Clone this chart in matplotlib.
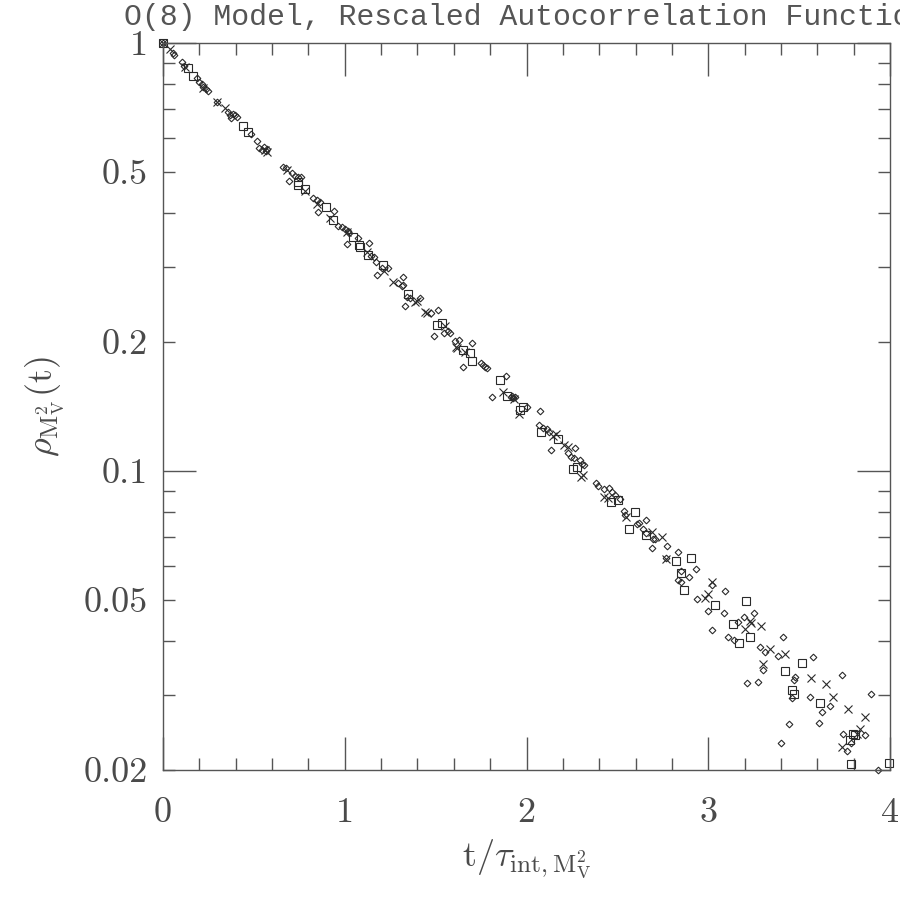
import numpy as np
import matplotlib
matplotlib.use("Agg")
import matplotlib.pyplot as plt
from matplotlib.ticker import FixedLocator, FixedFormatter, NullFormatter

plt.rcParams['mathtext.fontset'] = 'cm'

# diamonds (first data set)
t_dia = [0.0, 0.055, 0.06, 0.105, 0.115, 0.187, 0.198, 0.215, 0.22, 0.237, 0.248,
         0.297, 0.358, 0.369, 0.385, 0.396, 0.407, 0.374, 0.484, 0.517, 0.528, 0.545,
         0.556, 0.567, 0.572, 0.66, 0.677,
         0.71, 0.726, 0.743, 0.76, 0.693, 0.825, 0.847, 0.864, 0.853, 0.941,
         0.963, 0.985, 1.001, 1.018, 1.023, 1.073, 1.012, 1.133, 1.144, 1.161, 1.172,
         1.238, 1.205, 1.177, 1.32, 1.293, 1.315, 1.32,
         1.343, 1.359, 1.414, 1.331, 1.475, 1.513, 1.546, 1.568, 1.579, 1.491,
         1.607, 1.629, 1.70, 1.75, 1.761, 1.772, 1.783, 1.651, 1.887, 1.809,
         1.915, 1.926, 1.937, 1.92,
         2.0, 2.074, 2.069, 2.091, 2.113, 2.124, 2.135, 2.267, 2.228, 2.245, 2.261,
         2.294, 2.305, 2.316, 2.382, 2.393, 2.426, 2.454, 2.47, 2.487, 2.514,
         2.536, 2.542, 2.657, 2.608, 2.619, 2.641, 2.657,
         2.696, 2.707, 2.69, 2.773, 2.834, 2.768, 2.933, 2.85, 2.834, 2.85, 2.894,
         3.021, 3.092, 2.938, 3.0, 3.087, 3.252, 3.197, 3.164, 3.021, 3.108, 3.142,
         3.285, 3.312, 3.30, 3.213, 3.274,
         3.411, 3.384, 3.576, 3.477, 3.472, 3.736, 3.461, 3.56, 3.67, 3.626, 3.896,
         3.444, 3.609, 3.862, 3.741, 3.40, 3.785, 3.763, 3.934]
rho_dia = [1.0, 0.947, 0.94, 0.903, 0.884, 0.829, 0.811, 0.802, 0.789, 0.78, 0.772,
           0.728, 0.690, 0.679, 0.682, 0.679, 0.671, 0.668, 0.613, 0.590, 0.568, 0.562,
           0.571, 0.559, 0.565, 0.513, 0.510,
           0.497, 0.489, 0.486, 0.486, 0.476, 0.434, 0.430, 0.425, 0.403, 0.404,
           0.373, 0.371, 0.367, 0.364, 0.360, 0.350, 0.339, 0.341, 0.318, 0.316, 0.308,
           0.298, 0.298, 0.287, 0.284, 0.275, 0.270, 0.272,
           0.255, 0.253, 0.253, 0.243, 0.234, 0.238, 0.210, 0.212, 0.210, 0.207,
           0.201, 0.202, 0.199, 0.179, 0.177, 0.175, 0.174, 0.175, 0.167, 0.149,
           0.149, 0.148, 0.149, 0.150,
           0.141, 0.138, 0.128, 0.126, 0.125, 0.123, 0.112, 0.113, 0.110, 0.108, 0.107,
           0.106, 0.104, 0.103, 0.0937, 0.0922, 0.0906, 0.0910, 0.0892, 0.0880, 0.0861,
           0.0805, 0.0790, 0.0767, 0.0752, 0.0756, 0.0730, 0.0718,
           0.0694, 0.0694, 0.0661, 0.0667, 0.0645, 0.0625, 0.0590, 0.0584, 0.0556, 0.0550, 0.0564,
           0.0542, 0.0524, 0.0503, 0.0471, 0.0465, 0.0465, 0.0456, 0.0444, 0.0424, 0.0410, 0.0403,
           0.0388, 0.0377, 0.0342, 0.0319, 0.0321,
           0.0410, 0.0369, 0.0368, 0.0330, 0.0324, 0.0333, 0.0294, 0.0297, 0.0282, 0.0273, 0.0301,
           0.0256, 0.0258, 0.0242, 0.0243, 0.0231, 0.0231, 0.0221, 0.0200]

# squares (second data set)
t_sq = [0.0, 0.14, 0.165, 0.44, 0.468, 0.743, 0.743, 0.78, 0.897, 0.935, 1.045,
        1.078, 1.084, 1.128, 1.21, 1.348, 1.507, 1.535, 1.651, 1.689, 1.70, 1.854,
        1.893, 1.964, 1.981, 2.08, 2.173, 2.256, 2.278, 2.465, 2.503, 2.597, 2.564,
        2.657, 2.905, 2.823, 2.85, 2.867, 3.037, 3.208, 3.136, 3.169, 3.23, 3.516,
        3.422, 3.461, 3.472, 3.615, 3.807, 3.796, 3.78, 3.785, 3.995]
rho_sq = [1.0, 0.874, 0.837, 0.640, 0.619, 0.473, 0.466, 0.456, 0.413, 0.386, 0.352,
          0.337, 0.333, 0.319, 0.303, 0.259, 0.219, 0.222, 0.192, 0.189, 0.181, 0.163,
          0.150, 0.139, 0.141, 0.123, 0.119, 0.101, 0.102, 0.0845, 0.0855, 0.0800, 0.0730,
          0.0708, 0.0627, 0.0615, 0.0578, 0.0528, 0.0487, 0.0497, 0.0438, 0.0396, 0.0410, 0.0356,
          0.0340, 0.0307, 0.0301, 0.0287, 0.0242, 0.0243, 0.0235, 0.0207, 0.0208]

# crosses (third data set)
t_cr = [0.0, 0.04, 0.12, 0.22, 0.297, 0.341, 0.572, 0.561, 0.68, 0.78, 0.847, 0.919,
        1.012, 1.122, 1.216, 1.265, 1.386, 1.397, 1.441, 1.452, 1.551, 1.612, 1.618,
        1.662, 1.87, 1.931, 1.959, 2.146, 2.162, 2.206, 2.228, 2.311, 2.30, 2.426,
        2.448, 2.547, 2.69, 2.746, 2.768, 3.021, 3.0, 2.982, 3.23, 3.235, 3.29, 3.202,
        3.30, 3.34, 3.422, 3.565, 3.648, 3.686, 3.769, 3.862, 3.835, 3.818, 3.736]
rho_cr = [1.0, 0.968, 0.88, 0.785, 0.728, 0.705, 0.556, 0.562, 0.505, 0.452, 0.421, 0.390,
          0.362, 0.325, 0.293, 0.276, 0.248, 0.249, 0.235, 0.234, 0.218, 0.195, 0.194,
          0.190, 0.153, 0.147, 0.136, 0.121, 0.122, 0.115, 0.114, 0.0977, 0.0967, 0.0870,
          0.0866, 0.0782, 0.0720, 0.0701, 0.0621, 0.0550, 0.0517, 0.0506, 0.0446, 0.0442, 0.0435, 0.0428,
          0.0354, 0.0383, 0.0373, 0.0328, 0.0318, 0.0296, 0.0278, 0.0266, 0.0249, 0.0243, 0.0226]

ytick_major = [0.1, 1]
ytick_minor = [0.02, 0.03, 0.04, 0.05, 0.06, 0.07, 0.08, 0.09,
               0.2, 0.3, 0.4, 0.5, 0.6, 0.7, 0.8, 0.9]
ylabels_major = ['0.1', '1']
ylabels_minor = ['0.02', '', '', '0.05', '', '', '', '',
                 '0.2', '', '', '0.5', '', '', '', '']
xtick_major = [0, 1, 2, 3, 4]
xtick_minor = [0.2, 0.4, 0.6, 0.8, 1.2, 1.4, 1.6, 1.8, 2.2, 2.4, 2.6, 2.8,
               3.2, 3.4, 3.6, 3.8]

ink = '#2a2a2a'
txt = '#4a4a4a'
fig = plt.figure(figsize=(9, 9), dpi=100)
ax = fig.add_axes([0.1811, 0.1444, 0.8078, 0.8078])

ax.plot(t_dia, rho_dia, linestyle='none', marker='D', ms=3.4, mfc='none',
        mec=ink, mew=0.8, clip_on=False)
ax.plot(t_sq, rho_sq, linestyle='none', marker='s', ms=5.2, mfc='none',
        mec=ink, mew=0.8, clip_on=False)
ax.plot(t_cr, rho_cr, linestyle='none', marker='x', ms=5.8,
        mec=ink, mew=0.8, clip_on=False)

ax.set_yscale('log')
ax.set_xlim(0, 4)
ax.set_ylim(0.02, 1)

ax.yaxis.set_major_locator(FixedLocator(ytick_major))
ax.yaxis.set_major_formatter(FixedFormatter(ylabels_major))
ax.yaxis.set_minor_locator(FixedLocator(ytick_minor))
ax.yaxis.set_minor_formatter(FixedFormatter(ylabels_minor))
ax.xaxis.set_major_locator(FixedLocator(xtick_major))
ax.xaxis.set_minor_locator(FixedLocator(xtick_minor))
ax.xaxis.set_minor_formatter(NullFormatter())

ax.tick_params(which='both', direction='in', top=True, right=True,
               color='#555555', width=1, labelcolor=txt)
ax.tick_params(which='major', length=24)
ax.tick_params(which='minor', length=8.6)
ax.tick_params(axis='x', which='both', pad=20)
ax.tick_params(axis='y', which='both', pad=11)
for lab in ax.get_xticklabels() + ax.get_yticklabels() + ax.get_yticklabels(minor=True):
    lab.set_fontfamily('cmr10')
    lab.set_fontsize(26)

for sp in ax.spines.values():
    sp.set_color('#555555')
    sp.set_linewidth(1)

ax.set_xlabel(r'$\mathrm{t}/\tau_{\mathrm{int},\mathrm{M}_\mathrm{V}^2}$',
              fontsize=26, color=txt, labelpad=6)
ax.set_ylabel(r'$\rho_{\mathrm{M}_\mathrm{V}^2}(\mathrm{t})$',
              fontsize=26, color=txt, labelpad=12)

# title runs past the right edge, as in the original
fig.text(0.5844, 0.9722, 'O(8) Model, Rescaled Autocorrelation Function',
         ha='center', va='baseline', fontsize=21.5, family='Liberation Mono',
         color='#555555')

fig.savefig('out.png', dpi=100)
